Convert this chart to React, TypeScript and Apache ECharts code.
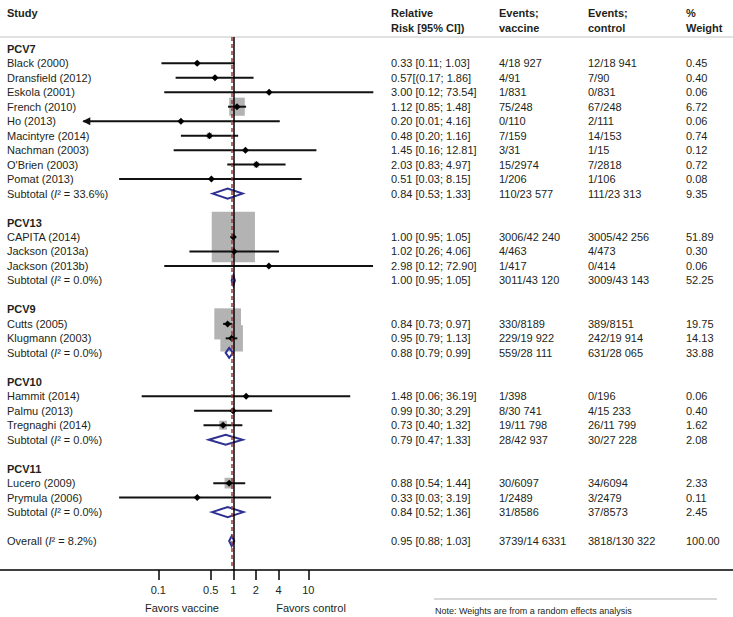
import React, { useEffect, useRef } from 'react';
import * as echarts from 'echarts';

// ---------- data ----------
const groupNames = ['PCV7', 'PCV13', 'PCV9', 'PCV10', 'PCV11'];
const groupI2 = ['33.6%', '0.0%', '0.0%', '0.0%', '0.0%'];

const studyNames = [
  'Black (2000)', 'Dransfield (2012)', 'Eskola (2001)', 'French (2010)', 'Ho (2013)',
  'Macintyre (2014)', 'Nachman (2003)', "O'Brien (2003)", 'Pomat (2013)',
  'CAPITA (2014)', 'Jackson (2013a)', 'Jackson (2013b)',
  'Cutts (2005)', 'Klugmann (2003)',
  'Hammit (2014)', 'Palmu (2013)', 'Tregnaghi (2014)',
  'Lucero (2009)', 'Prymula (2006)',
];
const studyGroup = [0, 0, 0, 0, 0, 0, 0, 0, 0, 1, 1, 1, 2, 2, 3, 3, 3, 4, 4];
const studyRR = [0.33, 0.57, 3.0, 1.12, 0.2, 0.48, 1.45, 2.03, 0.51, 1.0, 1.02, 2.98, 0.84, 0.95, 1.48, 0.99, 0.73, 0.88, 0.33];
const studyLo = [0.11, 0.17, 0.12, 0.85, 0.01, 0.2, 0.16, 0.83, 0.03, 0.95, 0.26, 0.12, 0.73, 0.79, 0.06, 0.3, 0.4, 0.54, 0.03];
const studyHi = [1.03, 1.86, 73.54, 1.48, 4.16, 1.16, 12.81, 4.97, 8.15, 1.05, 4.06, 72.9, 0.97, 1.13, 36.19, 3.29, 1.32, 1.44, 3.19];
const studyCI = [
  '0.33 [0.11; 1.03]', '0.57[(0.17; 1.86]', '3.00 [0.12; 73.54]', '1.12 [0.85; 1.48]', '0.20 [0.01; 4.16]',
  '0.48 [0.20; 1.16]', '1.45 [0.16; 12.81]', '2.03 [0.83; 4.97]', '0.51 [0.03; 8.15]',
  '1.00 [0.95; 1.05]', '1.02 [0.26; 4.06]', '2.98 [0.12; 72.90]',
  '0.84 [0.73; 0.97]', '0.95 [0.79; 1.13]',
  '1.48 [0.06; 36.19]', '0.99 [0.30; 3.29]', '0.73 [0.40; 1.32]',
  '0.88 [0.54; 1.44]', '0.33 [0.03; 3.19]',
];
const studyEvVacc = ['4/18 927', '4/91', '1/831', '75/248', '0/110', '7/159', '3/31', '15/2974', '1/206', '3006/42 240', '4/463', '1/417', '330/8189', '229/19 922', '1/398', '8/30 741', '19/11 798', '30/6097', '1/2489'];
const studyEvCtrl = ['12/18 941', '7/90', '0/831', '67/248', '2/111', '14/153', '1/15', '7/2818', '1/106', '3005/42 256', '4/473', '0/414', '389/8151', '242/19 914', '0/196', '4/15 233', '26/11 799', '34/6094', '3/2479'];
const studyWeight = [0.45, 0.4, 0.06, 6.72, 0.06, 0.74, 0.12, 0.72, 0.08, 51.89, 0.3, 0.06, 19.75, 14.13, 0.06, 0.4, 1.62, 2.33, 0.11];

const subRR = [0.84, 1.0, 0.88, 0.79, 0.84];
const subLo = [0.53, 0.95, 0.79, 0.47, 0.52];
const subHi = [1.33, 1.05, 0.99, 1.33, 1.36];
const subCI = ['0.84 [0.53; 1.33]', '1.00 [0.95; 1.05]', '0.88 [0.79; 0.99]', '0.79 [0.47; 1.33]', '0.84 [0.52; 1.36]'];
const subEvVacc = ['110/23 577', '3011/43 120', '559/28 111', '28/42 937', '31/8586'];
const subEvCtrl = ['111/23 313', '3009/43 143', '631/28 065', '30/27 228', '37/8573'];
const subWeight = [9.35, 52.25, 33.88, 2.08, 2.45];

const overallI2 = '8.2%';
const overallRR = 0.95;
const overallLo = 0.88;
const overallHi = 1.03;
const overallCI = '0.95 [0.88; 1.03]';
const overallEvVacc = '3739/14 6331';
const overallEvCtrl = '3818/130 322';
const overallWeight = 100.0;

const tickValues = [0.1, 0.5, 1, 2, 4, 10];
const pooledLine = 0.95;

// ---------- layout of rows ----------
type Row = { kind: 'group' | 'study' | 'sub' | 'overall'; row: number; i: number };
const rows: Row[] = [];
const studyRow: number[] = [];
const subRow: number[] = [];
let overallRow = 0;
(() => {
  let r = 0;
  groupNames.forEach((_g, gi) => {
    rows.push({ kind: 'group', row: r++, i: gi });
    studyNames.forEach((_s, si) => {
      if (studyGroup[si] === gi) {
        studyRow[si] = r;
        rows.push({ kind: 'study', row: r++, i: si });
      }
    });
    subRow[gi] = r;
    rows.push({ kind: 'sub', row: r++, i: gi });
    r++;
  });
  overallRow = r;
  rows.push({ kind: 'overall', row: r, i: 0 });
})();

const X_MIN = -2;
const X_MAX = 2;
const FONT = "'Liberation Sans', Arial, Helvetica, sans-serif";
const TXT = '#231f20';
const NAVY = '#2e3192';
const COL_X = { name: 7, ci: 391, ev: 499, ctrl: 588, w: 686 };

export default function App() {
  const ref = useRef<HTMLDivElement>(null);
  useEffect(() => {
    if (!ref.current) return;
    const chart = echarts.init(ref.current, undefined, { renderer: 'svg' });

    const txt = (text: string, x: number, y: number, extra: any = {}) => ({
      type: 'text',
      x,
      y,
      style: {
        text,
        fill: TXT,
        fontSize: 11,
        fontFamily: FONT,
        verticalAlign: 'middle',
        align: 'left',
        ...extra,
      },
    });

    const option: any = {
      animation: false,
      grid: {
        left: 83.33,
        width: 300,
        top: 37,
        height: 533,
        containLabel: false,
        outerBoundsMode: 'none',
      },
      xAxis: {
        type: 'value',
        position: 'bottom',
        min: X_MIN,
        max: X_MAX,
        axisLine: { show: false, onZero: false },
        splitLine: { show: false },
        axisTick: {
          show: true,
          length: 10,
          lineStyle: { color: '#000', width: 1.5 },
          customValues: tickValues.map((v) => Math.log10(v)),
        },
        axisLabel: {
          show: true,
          margin: 14,
          color: TXT,
          fontSize: 11,
          fontFamily: FONT,
          customValues: tickValues.map((v) => Math.log10(v)),
          formatter: (v: number) => {
            let best = tickValues[0];
            tickValues.forEach((t) => {
              if (Math.abs(Math.log10(t) - v) < Math.abs(Math.log10(best) - v)) best = t;
            });
            return String(best);
          },
        },
      },
      yAxis: {
        type: 'value',
        inverse: true,
        min: -0.815,
        max: 36,
        show: false,
      },
      graphic: [
        { type: 'line', shape: { x1: 0, y1: 37, x2: 733, y2: 37 }, style: { stroke: '#c4c4c4', lineWidth: 1 }, z: 1 },
        { type: 'line', shape: { x1: 0, y1: 570, x2: 733, y2: 570 }, style: { stroke: '#000', lineWidth: 1.5 }, z: 10 },
        txt('Study', COL_X.name, 13, { fontWeight: 'bold' }),
        txt('Relative', COL_X.ci, 13, { fontWeight: 'bold' }),
        txt('Risk [95% CI])', COL_X.ci, 28, { fontWeight: 'bold' }),
        txt('Events;', COL_X.ev, 13, { fontWeight: 'bold' }),
        txt('vaccine', COL_X.ev, 28, { fontWeight: 'bold' }),
        txt('Events;', COL_X.ctrl, 13, { fontWeight: 'bold' }),
        txt('control', COL_X.ctrl, 28, { fontWeight: 'bold' }),
        txt('%', COL_X.w, 13, { fontWeight: 'bold' }),
        txt('Weight', COL_X.w, 28, { fontWeight: 'bold' }),
        txt('Favors vaccine', 182, 608, { align: 'center', fontSize: 11 }),
        txt('Favors control', 311, 608, { align: 'center', fontSize: 11 }),
        { type: 'line', shape: { x1: 434, y1: 599, x2: 717, y2: 599 }, style: { stroke: '#b0b0b0', lineWidth: 1 } },
        txt('Note: Weights are from a random effects analysis', 435, 611, { fontSize: 9 }),
      ],
      series: [
        {
          type: 'line',
          data: [],
          z: 1,
          silent: true,
          markLine: {
            silent: true,
            symbol: 'none',
            label: { show: false },
            animation: false,
            data: [
              { xAxis: 0, lineStyle: { color: '#000', width: 1.5, type: 'solid' } },
              { xAxis: Math.log10(pooledLine), lineStyle: { color: '#9b3a3a', width: 1.5, type: [4, 3] } },
            ],
          },
        },
        {
          type: 'custom',
          z: 2,
          clip: false,
          silent: true,
          data: studyRR.map((v, i) => [Math.log10(v), studyRow[i]]),
          renderItem: (params: any, api: any) => {
            const i = params.dataIndex;
            const c = api.coord([Math.log10(studyRR[i]), studyRow[i]]);
            const s = Math.sqrt(studyWeight[i]);
            const w = 6.0 * s;
            const h = 7.0 * s;
            return {
              type: 'rect',
              shape: { x: c[0] - w / 2, y: c[1] - h / 2, width: w, height: h },
              style: { fill: '#b3b3b3' },
            };
          },
        },
        {
          type: 'custom',
          z: 3,
          clip: false,
          silent: true,
          data: studyRR.map((v, i) => [Math.log10(v), studyRow[i]]),
          renderItem: (params: any, api: any) => {
            const i = params.dataIndex;
            const row = studyRow[i];
            const lo = Math.log10(studyLo[i]);
            const hi = Math.log10(studyHi[i]);
            const loC = lo <= X_MIN + 1e-9;
            const hiC = hi >= X_MAX - 1e-9;
            const p0 = api.coord([Math.max(lo, X_MIN), row]);
            const p1 = api.coord([Math.min(hi, X_MAX), row]);
            const c = api.coord([Math.log10(studyRR[i]), row]);
            const children: any[] = [
              {
                type: 'line',
                shape: { x1: p0[0], y1: p0[1], x2: p1[0], y2: p1[1] },
                style: { stroke: '#111', lineWidth: 2 },
              },
              {
                type: 'polygon',
                shape: {
                  points: [
                    [c[0] - 3.5, c[1]],
                    [c[0], c[1] - 3.5],
                    [c[0] + 3.5, c[1]],
                    [c[0], c[1] + 3.5],
                  ],
                },
                style: { fill: '#000' },
              },
            ];
            if (loC) {
              children.push({
                type: 'polygon',
                shape: { points: [[p0[0] - 1, p0[1]], [p0[0] + 7, p0[1] - 4], [p0[0] + 7, p0[1] + 4]] },
                style: { fill: '#111' },
              });
            }
            if (hiC) {
              children.push({
                type: 'polygon',
                shape: { points: [[p1[0] + 1, p1[1]], [p1[0] - 7, p1[1] - 4], [p1[0] - 7, p1[1] + 4]] },
                style: { fill: '#111' },
              });
            }
            return { type: 'group', children };
          },
        },
        {
          type: 'custom',
          z: 4,
          clip: false,
          silent: true,
          data: [...subRR.map((v, i) => [Math.log10(v), subRow[i]]), [Math.log10(overallRR), overallRow]],
          renderItem: (params: any, api: any) => {
            const i = params.dataIndex;
            const isOverall = i === subRR.length;
            const row = isOverall ? overallRow : subRow[i];
            const est = Math.log10(isOverall ? overallRR : subRR[i]);
            const lo = Math.log10(isOverall ? overallLo : subLo[i]);
            const hi = Math.log10(isOverall ? overallHi : subHi[i]);
            const a = api.coord([lo, row]);
            const b = api.coord([est, row]);
            const d = api.coord([hi, row]);
            return {
              type: 'polygon',
              shape: { points: [[a[0], a[1]], [b[0], b[1] - 5], [d[0], d[1]], [b[0], b[1] + 5]] },
              style: { fill: 'none', stroke: NAVY, lineWidth: 2 },
            };
          },
        },
        {
          type: 'custom',
          z: 5,
          clip: false,
          silent: true,
          data: rows.map((r) => [0, r.row]),
          renderItem: (params: any, api: any) => {
            const r = rows[params.dataIndex];
            const y = api.coord([0, r.row])[1];
            const children: any[] = [];
            if (r.kind === 'group') {
              children.push(txt(groupNames[r.i], COL_X.name, y, { fontWeight: 'bold' }));
            } else if (r.kind === 'study') {
              const i = r.i;
              children.push(txt(studyNames[i], COL_X.name, y));
              children.push(txt(studyCI[i], COL_X.ci, y));
              children.push(txt(studyEvVacc[i], COL_X.ev, y));
              children.push(txt(studyEvCtrl[i], COL_X.ctrl, y));
              children.push(txt(studyWeight[i].toFixed(2), COL_X.w, y));
            } else {
              const isO = r.kind === 'overall';
              const label = isO
                ? 'Overall ({it|I}\u00b2 = ' + overallI2 + ')'
                : 'Subtotal ({it|I}\u00b2 = ' + groupI2[r.i] + ')';
              children.push(
                txt(label, COL_X.name, y, {
                  rich: { it: { fontStyle: 'italic', fontSize: 11, fontFamily: FONT, fill: TXT } },
                })
              );
              children.push(txt(isO ? overallCI : subCI[r.i], COL_X.ci, y));
              children.push(txt(isO ? overallEvVacc : subEvVacc[r.i], COL_X.ev, y));
              children.push(txt(isO ? overallEvCtrl : subEvCtrl[r.i], COL_X.ctrl, y));
              children.push(txt((isO ? overallWeight : subWeight[r.i]).toFixed(2), COL_X.w, y));
            }
            return { type: 'group', children };
          },
        },
      ],
    };

    chart.setOption(option);
    return () => {
      chart.dispose();
    };
  }, []);

  return (
    <div
      ref={ref}
      style={{ position: 'absolute', left: 0, top: 0, width: 733, height: 617, background: '#fff' }}
    />
  );
}
